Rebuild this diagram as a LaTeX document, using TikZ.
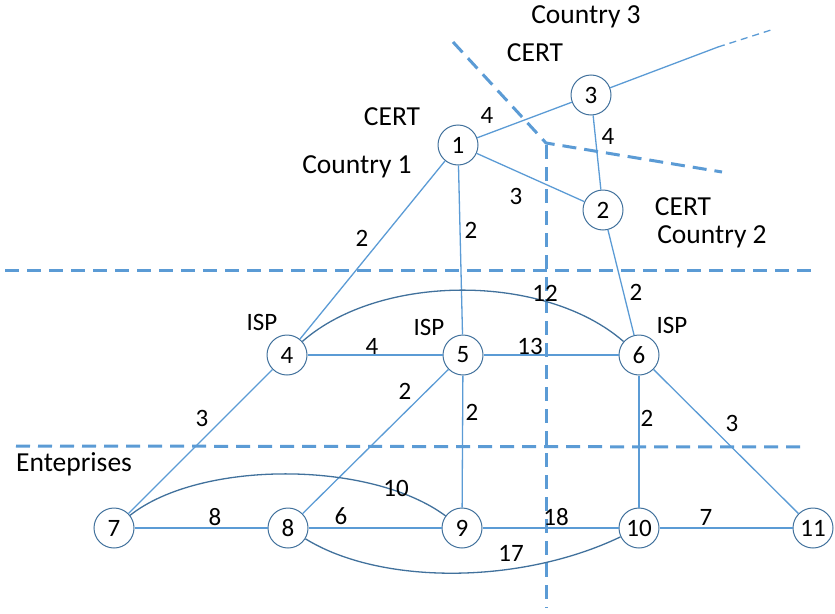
\documentclass[tikz,border=0pt]{standalone}
\usepackage{fontspec}
\setmainfont{Carlito}
\definecolor{lb}{HTML}{5B9BD5}
\definecolor{db}{HTML}{41719C}
\begin{document}
\begin{tikzpicture}[x=1pt,y=-1pt,
  vtx/.style={circle,draw=db,line width=1pt,fill=white,minimum size=40pt,inner sep=0pt,font=\fontsize{25}{25}\selectfont},
  edge/.style={draw=lb,line width=1.3pt},
  cedge/.style={draw=db,line width=1.3pt},
  wlab/.style={inner sep=0pt,font=\fontsize{25}{25}\selectfont},
  reg/.style={inner sep=0pt,font=\fontsize{27.5}{27.5}\selectfont},
  sep/.style={draw=lb,line width=3pt,dash pattern=on 14pt off 8pt}]
\useasboundingbox (0,0) rectangle (835,613);
% separators
\draw[sep] (5,270) -- (818,270);
\draw[sep] (16,446) -- (805,447);
\draw[sep] (453,42) -- (546,143) -- (722,172);
\draw[sep] (546,145) -- (546,608);
% nodes
\node[vtx] (n1) at (458,145) {1};
\node[vtx] (n3) at (591,95) {3};
\node[vtx] (n2) at (603,210) {2};
\node[vtx] (n4) at (287,355) {4};
\node[vtx] (n5) at (463,355) {5};
\node[vtx] (n6) at (639,355) {6};
\node[vtx] (n7) at (114,528) {7};
\node[vtx] (n8) at (288,528) {8};
\node[vtx] (n9) at (462,528) {9};
\node[vtx] (n10) at (639,528) {10};
\node[vtx] (n11) at (813,528) {11};
\coordinate (ext) at (718,47);
\coordinate (extb) at (771,30);
% edges
\draw[edge] (n1) -- (n3);
\draw[edge] (n1) -- (n2);
\draw[edge] (n1) -- (n4);
\draw[edge] (n1) -- (n5);
\draw[edge] (n3) -- (n2);
\draw[edge] (n3) -- (ext);
\draw[edge,dash pattern=on 7pt off 5pt] (ext) -- (extb);
\draw[edge] (n2) -- (n6);
\draw[edge] (n4) -- (n5);
\draw[edge] (n5) -- (n6);
\draw[edge] (n4) -- (n7);
\draw[edge] (n5) -- (n8);
\draw[edge] (n5) -- (n9);
\draw[edge] (n6) -- (n10);
\draw[edge] (n6) -- (n11);
\draw[edge] (n7) -- (n8);
\draw[edge] (n8) -- (n9);
\draw[edge] (n9) -- (n10);
\draw[edge] (n10) -- (n11);
\draw[cedge] (n4) .. controls (380,273) and (545,273) .. (n6);
\draw[cedge] (n7) .. controls (200,460) and (370,460) .. (n9);
\draw[cedge] (n8) .. controls (380,585) and (520,585) .. (n10);
% weights
\node[wlab] (w13) at (487,115) {4};
\node[wlab] (w12) at (516,196) {3};
\node[wlab] (w14) at (362,238) {2};
\node[wlab] (w15) at (471,230) {2};
\node[wlab] (w32) at (608,136) {4};
\node[wlab] (w26) at (636,292) {2};
\node[wlab] (w46c) at (545,293) {12};
\node[wlab] (w45) at (372,346) {4};
\node[wlab] (w56) at (530,346) {13};
\node[wlab] (w47) at (202,418) {3};
\node[wlab] (w58) at (405,391) {2};
\node[wlab] (w59) at (472,412) {2};
\node[wlab] (w610) at (647,418) {2};
\node[wlab] (w611) at (732,423) {3};
\node[wlab] (w79) at (396,488) {10};
\node[wlab] (w78) at (215,517) {8};
\node[wlab] (w89) at (341,516) {6};
\node[wlab] (w910) at (556,517) {18};
\node[wlab] (w1011) at (706,517) {7};
\node[wlab] (w810) at (511,553) {17};
% region labels
\node[reg] (c3) at (586,17) {Country 3};
\node[reg] (cert3) at (535,53) {CERT};
\node[reg] (cert1) at (392,117) {CERT};
\node[reg] (c1) at (357,167) {Country 1};
\node[reg] (cert2) at (683,207) {CERT};
\node[reg] (c2) at (712,237) {Country 2};
\node[wlab] (isp4) at (262,322) {ISP};
\node[wlab] (isp5) at (429,327) {ISP};
\node[wlab] (isp6) at (672,325) {ISP};
\node[reg,anchor=west] (ent) at (16,464) {Enteprises};
\end{tikzpicture}
\end{document}
